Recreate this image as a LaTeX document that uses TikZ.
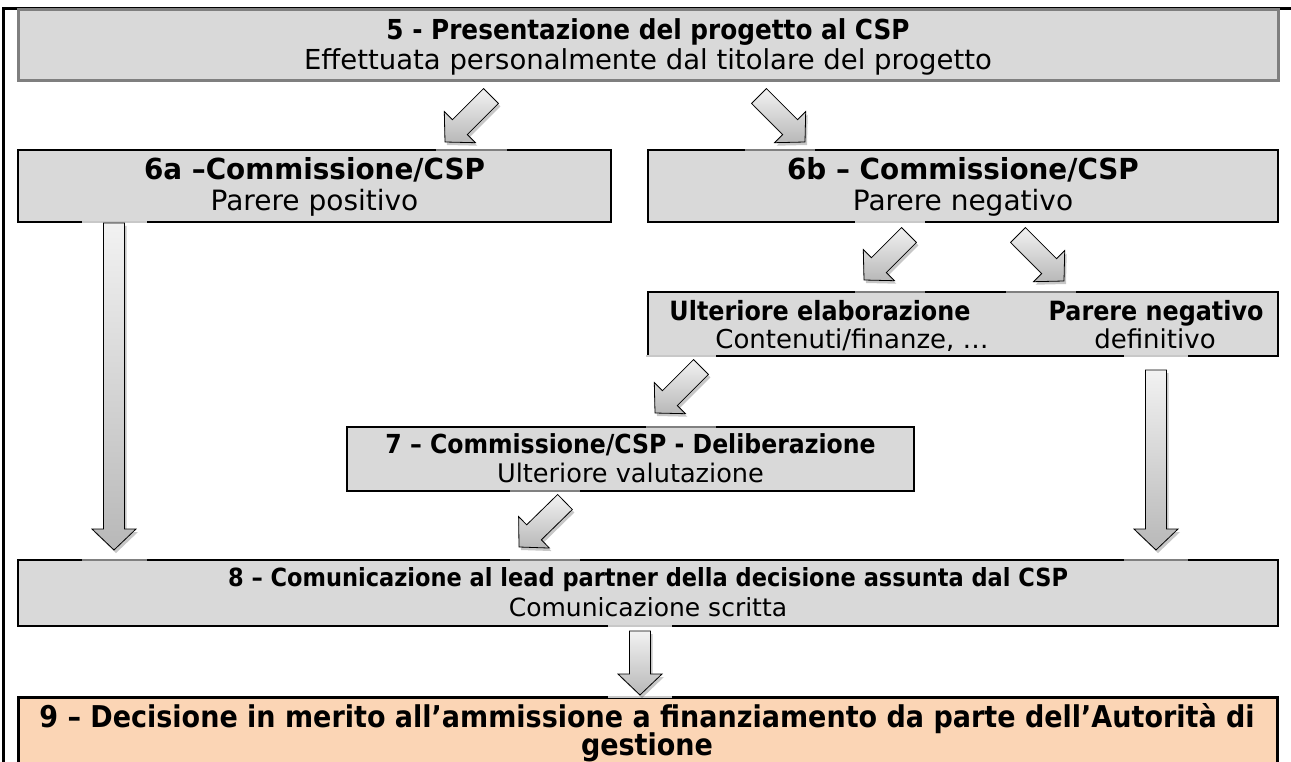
\documentclass[tikz,border=0pt]{standalone}
\usepackage{fontspec}
\setmainfont{DejaVu Sans}
\usetikzlibrary{calc,shadows}
\definecolor{boxgray}{HTML}{D9D9D9}
\definecolor{peach}{HTML}{FBD5B5}
\definecolor{edgegray}{HTML}{7F7F7F}
\definecolor{arrlight}{HTML}{F2F2F2}
\definecolor{arrdark}{HTML}{B8B8B8}
\definecolor{seglight}{HTML}{C8C8C8}
\definecolor{segdark}{HTML}{808080}
\tikzset{
  box/.style={draw=black, line width=2.5pt, fill=boxgray, rectangle, inner sep=0pt},
  tb/.style={anchor=base, inner sep=0pt, font=\fontsize{#1}{#1}\selectfont\bfseries},
  tr/.style={anchor=base, inner sep=0pt, font=\fontsize{#1}{#1}\selectfont},
  blockarr/.style={draw=black, line width=0.8pt, top color=arrlight, bottom color=arrdark,
    drop shadow={shadow xshift=2pt, shadow yshift=-3pt, opacity=0.22, fill=black}},
  segL/.style={draw=seglight, line width=2.5pt},
  segD/.style={draw=segdark, line width=2.5pt},
  frame/.style={draw=black, line width=3pt}
}
\newcommand{\nb}[2]{\scalebox{#1}[1]{#2}}
\newcommand{\blockarrow}[2]{%
  \coordinate (#1-b) at ($(#2)!21pt!(#1)$);
  \path[blockarr] ($(#1)!10.5pt!90:(#2)$) -- ($(#1-b)!10.5pt!90:(#2)$) -- ($(#1-b)!22pt!90:(#2)$) -- (#2)
    -- ($(#1-b)!22pt!-90:(#2)$) -- ($(#1-b)!10.5pt!-90:(#2)$) -- ($(#1)!10.5pt!-90:(#2)$) -- cycle;}
\begin{document}
\begin{tikzpicture}[x=1pt, y=-1pt]
\useasboundingbox (0,0) rectangle (1291,762);
% outer frame
\coordinate (fbl) at (3,770);
\coordinate (ftl) at (3,8.5);
\coordinate (ftr) at (1296,8.5);
\draw[frame] (fbl) -- (ftl) -- (ftr);

% boxes
\node[box, draw=edgegray, line width=3pt, minimum width=1260pt, minimum height=71pt] (b5) at (648,45.5) {};
\node[box, minimum width=593pt, minimum height=72pt] (b6a) at (314.5,186) {};
\node[box, minimum width=630pt, minimum height=72pt] (b6b) at (963,186) {};
\node[box, minimum width=630pt, minimum height=64pt] (bU) at (963,324) {};
\node[box, minimum width=567pt, minimum height=64pt] (b7) at (630.5,459) {};
\node[box, minimum width=1260pt, minimum height=66pt] (b8) at (648,593) {};
\node[box, fill=peach, line width=3pt, minimum width=1259pt, minimum height=85pt] (b9) at (647.5,739.5) {};

% texts
\node[tb=27.5] (t5a) at (648,40) {\nb{0.9}{5 - Presentazione del progetto al CSP}};
\node[tr=27.5] (t5b) at (648,70) {Effettuata personalmente dal titolare del progetto};
\node[tb=29] (t6aa) at (314.5,180) {\nb{0.96}{6a –Commissione/CSP}};
\node[tr=28] (t6ab) at (314.5,211) {Parere positivo};
\node[tb=29] (t6ba) at (963,180) {\nb{0.96}{6b – Commissione/CSP}};
\node[tr=28] (t6bb) at (963,211) {Parere negativo};
\node[tb=26.5] (tUa) at (820,320) {\nb{0.9}{Ulteriore elaborazione}};
\node[tr=26] (tUb) at (852,348) {Contenuti/finanze, …};
\node[tb=26.5] (tUc) at (1156,320) {\nb{0.9}{Parere negativo}};
\node[tr=26] (tUd) at (1155,348) {definitivo};
\node[tb=26.2] (t7a) at (630.5,453) {\nb{0.9}{7 – Commissione/CSP - Deliberazione}};
\node[tr=25.6] (t7b) at (630.5,482) {Ulteriore valutazione};
\node[tb=25] (t8a) at (648,586) {\nb{0.9}{8 – Comunicazione al lead partner della decisione assunta dal CSP}};
\node[tr=25] (t8b) at (648,616) {Comunicazione scritta};
\node[tb=30] (t9a) at (647,727) {\nb{0.9}{9 – Decisione in merito all’ammissione a finanziamento da parte dell’Autorità di}};
\node[tb=30] (t9b) at (647,755) {\nb{0.9}{gestione}};

% border artefacts where arrows meet boxes
\draw[segD] (436,150) -- (507,150);
\draw[segD] (745,150) -- (815,150);
\draw[segL] (855,222) -- (925,222);
\draw[segD] (855,292) -- (925,292);
\draw[segD] (1006,292) -- (1076,292);
\draw[segL] (646,356) -- (716,356);
\draw[segD] (646,427) -- (716,427);
\draw[segD] (510,491) -- (580,491);
\draw[segD] (510,560) -- (580,560);
\draw[segL] (82,222) -- (147,222);
\draw[segD] (82,560) -- (147,560);
\draw[segL] (1124,356) -- (1188,356);
\draw[segD] (1124,560) -- (1188,560);
\draw[segL] (608,626) -- (672,626);
\draw[segL] (608,697) -- (672,697);

% arrow end points
\coordinate (a1t) at (491,96);   \coordinate (a1p) at (445,142);
\coordinate (a2t) at (759,96);   \coordinate (a2p) at (805,142);
\coordinate (a3t) at (909,235);  \coordinate (a3p) at (864,280);
\coordinate (a4t) at (1018,235); \coordinate (a4p) at (1064,281);
\coordinate (a5t) at (701,367);  \coordinate (a5p) at (655,413);
\coordinate (a6t) at (565,502);  \coordinate (a6p) at (519,547);
\coordinate (v1t) at (114,223);  \coordinate (v1p) at (114,550);
\coordinate (v2t) at (1156,370); \coordinate (v2p) at (1156,550);
\coordinate (v3t) at (640,631);  \coordinate (v3p) at (640,695);

\blockarrow{a1t}{a1p}
\blockarrow{a2t}{a2p}
\blockarrow{a3t}{a3p}
\blockarrow{a4t}{a4p}
\blockarrow{a5t}{a5p}
\blockarrow{a6t}{a6p}
\blockarrow{v1t}{v1p}
\blockarrow{v2t}{v2p}
\blockarrow{v3t}{v3p}
\end{tikzpicture}
\end{document}
